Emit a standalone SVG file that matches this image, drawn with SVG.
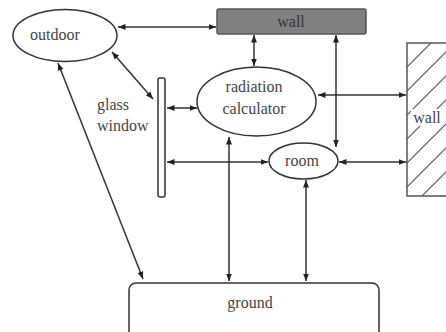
<svg xmlns="http://www.w3.org/2000/svg" width="446" height="332" viewBox="0 0 446 332">
<style>
.node{fill:#fff;stroke:#333;stroke-width:1.5}
.lbl{font-family:'Liberation Serif','DejaVu Serif','Times New Roman',serif;font-size:16px;fill:#444;text-anchor:middle}
.conn line{stroke:#333;stroke-width:1.5;marker-start:url(#ah);marker-end:url(#ah)}
</style>
<defs>
<marker id="ah" viewBox="0 0 10 10" refX="10" refY="5" markerWidth="5" markerHeight="5" orient="auto-start-reverse" markerUnits="strokeWidth">
<path d="M0,1 L10,5 L0,9 Z" fill="#222"/>
</marker>
<pattern id="hatch" patternUnits="userSpaceOnUse" width="24" height="24" x="407" y="43">
<path d="M0,24 L24,0 M-6,6 L6,-6 M18,30 L30,18" stroke="#555" stroke-width="1.2"/>
</pattern>
</defs>
<g class="conn" id="connectors">
<line x1="118" y1="27" x2="216" y2="27"/>
<line x1="112" y1="52" x2="153" y2="99"/>
<line x1="58" y1="63" x2="143" y2="279"/>
<line x1="167" y1="108" x2="197" y2="108"/>
<line x1="254" y1="35" x2="254" y2="66"/>
<line x1="336" y1="35" x2="336" y2="147"/>
<line x1="318" y1="95" x2="406" y2="95"/>
<line x1="167" y1="162" x2="268" y2="162"/>
<line x1="339" y1="162" x2="406" y2="162"/>
<line x1="229" y1="137" x2="229" y2="281"/>
<line x1="306" y1="180" x2="306" y2="281"/>
</g>
<g id="outdoor">
<ellipse class="node" cx="65" cy="35.5" rx="52" ry="26"/>
<text class="lbl" x="55" y="40" font-family="Liberation Serif, serif">outdoor</text>
</g>
<g id="top-wall">
<rect x="217" y="9" width="149" height="25" rx="2" fill="#808080" stroke="#555" stroke-width="1.5"/>
<text class="lbl" x="291" y="27" style="fill:#333">wall</text>
</g>
<g id="glass-window">
<rect class="node" x="158" y="78" width="7" height="119" rx="2"/>
<text class="lbl" x="97" y="110" style="text-anchor:start">glass</text>
<text class="lbl" x="97" y="131" style="text-anchor:start">window</text>
</g>
<g id="radiation-calculator">
<ellipse class="node" cx="256.5" cy="101.5" rx="59.5" ry="34.5"/>
<text class="lbl" x="254" y="92">radiation</text>
<text class="lbl" x="254" y="114">calculator</text>
</g>
<g id="room">
<ellipse class="node" cx="303.5" cy="161" rx="34.5" ry="18"/>
<text class="lbl" x="302" y="166">room</text>
</g>
<g id="right-wall">
<rect x="407" y="43" width="50" height="153" fill="url(#hatch)" stroke="#555" stroke-width="1.5"/>
<rect x="411" y="109" width="32" height="17" fill="#fff"/>
<text class="lbl" x="427" y="123">wall</text>
</g>
<g id="ground">
<rect class="node" x="129" y="283" width="250" height="55" rx="7"/>
<text class="lbl" x="250" y="308">ground</text>
</g>
</svg>
